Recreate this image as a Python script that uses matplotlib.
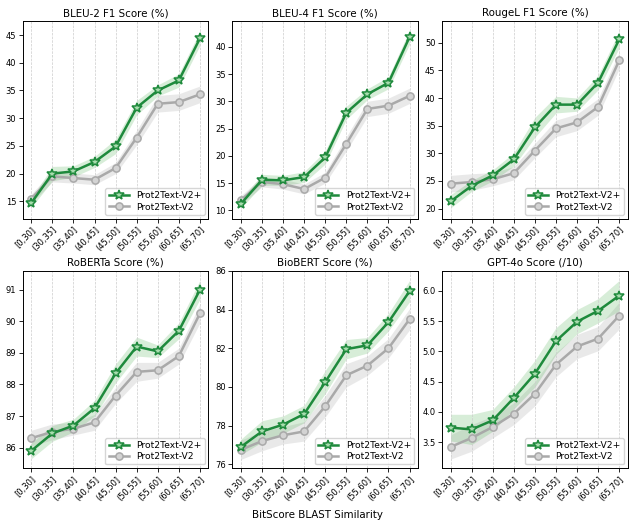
import numpy as np
import matplotlib
matplotlib.use('Agg')
import matplotlib.pyplot as plt

bins = ['[0,30]', '(30,35]', '(35,40]', '(40,45]', '(45,50]',
        '(50,55]', '(55,60]', '(60,65]', '(65,70]']

titles = ['BLEU-2 F1 Score (%)', 'BLEU-4 F1 Score (%)', 'RougeL F1 Score (%)',
          'RoBERTa Score (%)', 'BioBERT Score (%)', 'GPT-4o Score (/10)']

# Prot2Text-V2+ means
bleu2_plus = [14.7, 20.0, 20.4, 22.1, 24.9, 31.9, 35.0, 36.8, 44.4]
bleu4_plus = [11.2, 15.6, 15.5, 16.1, 19.7, 27.9, 31.3, 33.4, 41.8]
rouge_plus = [21.3, 24.1, 26.0, 28.9, 34.7, 38.8, 38.8, 42.8, 50.6]
roberta_plus = [85.9, 86.45, 86.7, 87.25, 88.35, 89.2, 89.05, 89.7, 91.0]
biobert_plus = [76.9, 77.7, 78.05, 78.6, 80.25, 81.95, 82.15, 83.35, 84.95]
gpt_plus = [3.74, 3.71, 3.86, 4.23, 4.63, 5.17, 5.49, 5.67, 5.92]

# Prot2Text-V2 means
bleu2_base = [15.5, 19.5, 19.2, 18.9, 21.0, 26.5, 32.6, 32.9, 34.3]
bleu4_base = [11.9, 15.2, 14.8, 13.9, 16.0, 22.2, 28.6, 29.2, 31.0]
rouge_base = [24.5, 24.8, 25.3, 26.4, 30.5, 34.5, 35.6, 38.4, 46.8]
roberta_base = [86.3, 86.5, 86.6, 86.8, 87.65, 88.4, 88.45, 88.9, 90.25]
biobert_base = [76.75, 77.2, 77.5, 77.7, 79.0, 80.6, 81.1, 82.0, 83.5]
gpt_base = [3.42, 3.57, 3.75, 3.97, 4.30, 4.78, 5.08, 5.21, 5.59]

# half-widths of the shaded bands
bleu2_plus_err = [0.8, 1.3, 1.0, 1.0, 1.3, 1.3, 1.0, 1.2, 1.3]
bleu2_base_err = [0.8, 1.0, 0.9, 0.9, 1.0, 1.3, 1.5, 1.5, 1.5]
bleu4_plus_err = [0.8, 1.0, 0.9, 1.0, 1.2, 1.2, 1.0, 1.1, 1.3]
bleu4_base_err = [0.8, 0.9, 0.9, 0.9, 1.0, 1.3, 1.4, 1.4, 1.4]
rouge_plus_err = [1.2, 1.0, 1.0, 1.2, 1.8, 1.5, 1.2, 1.3, 1.5]
rouge_base_err = [1.5, 1.5, 1.2, 1.2, 1.3, 1.5, 1.5, 1.5, 1.5]
roberta_plus_err = [0.25, 0.25, 0.2, 0.25, 0.3, 0.3, 0.2, 0.25, 0.3]
roberta_base_err = [0.25, 0.25, 0.2, 0.25, 0.25, 0.3, 0.25, 0.25, 0.3]
biobert_plus_err = [0.4, 0.55, 0.45, 0.45, 0.6, 0.5, 0.4, 0.45, 0.55]
biobert_base_err = [0.5, 0.5, 0.45, 0.5, 0.55, 0.6, 0.5, 0.5, 0.55]
gpt_plus_err = [0.22, 0.25, 0.18, 0.18, 0.22, 0.22, 0.2, 0.2, 0.25]
gpt_base_err = [0.2, 0.22, 0.18, 0.18, 0.2, 0.2, 0.2, 0.2, 0.22]

plus = [bleu2_plus, bleu4_plus, rouge_plus, roberta_plus, biobert_plus, gpt_plus]
base = [bleu2_base, bleu4_base, rouge_base, roberta_base, biobert_base, gpt_base]
plus_err = [bleu2_plus_err, bleu4_plus_err, rouge_plus_err,
            roberta_plus_err, biobert_plus_err, gpt_plus_err]
base_err = [bleu2_base_err, bleu4_base_err, rouge_base_err,
            roberta_base_err, biobert_base_err, gpt_base_err]
ylims = [(11.9, 47.5), (8.5, 44.7), (18.2, 53.9),
         (85.35, 91.6), (75.8, 86.0), (3.07, 6.33)]

green = '#1e8a3c'
green_face = '#a8dcae'
gray = '#a9a9a9'
gray_face = '#d3d3d3'

fig, axes = plt.subplots(2, 3, figsize=(6.34, 5.29), dpi=100)
fig.subplots_adjust(left=0.036, right=0.99, top=0.96, bottom=0.115,
                    wspace=0.13, hspace=0.265)

x = np.arange(len(bins))
for i, ax in enumerate(axes.flat):
    p = np.array(plus[i])
    b = np.array(base[i])
    pe = np.array(plus_err[i])
    be = np.array(base_err[i])
    ax.fill_between(x, b - be, b + be, color=gray, alpha=0.25, lw=0)
    ax.fill_between(x, p - pe, p + pe, color='#4caf50', alpha=0.22, lw=0)
    ax.plot(x, p, color=green, lw=1.8, marker='*', markersize=7.8,
            markerfacecolor=green_face, markeredgecolor=green,
            markeredgewidth=1.1, label='Prot2Text-V2+', zorder=4)
    ax.plot(x, b, color=gray, lw=1.8, marker='o', markersize=5.2,
            markerfacecolor=gray_face, markeredgecolor=gray,
            markeredgewidth=1.1, label='Prot2Text-V2', zorder=3)
    ax.set_title(titles[i], fontsize=7.4, pad=3.5)
    ax.set_xticks(x)
    ax.set_xticklabels(bins, rotation=45, ha='right', rotation_mode='anchor',
                       fontsize=6)
    ax.tick_params(axis='both', labelsize=6, length=2.8, width=0.6, pad=2)
    for s in ax.spines.values():
        s.set_linewidth(0.7)
    ax.set_xlim(-0.4, 8.4)
    ax.set_ylim(*ylims[i])
    ax.grid(axis='x', linestyle='--', color='#cccccc', lw=0.5)
    ax.legend(loc='lower right', fontsize=6.6, handlelength=2.2,
              borderpad=0.35, labelspacing=0.25, borderaxespad=0.4)

fig.text(0.5, 0.027, 'BitScore BLAST Similarity', fontsize=7.4,
         ha='center', va='center')
fig.savefig('out.png', dpi=100)
